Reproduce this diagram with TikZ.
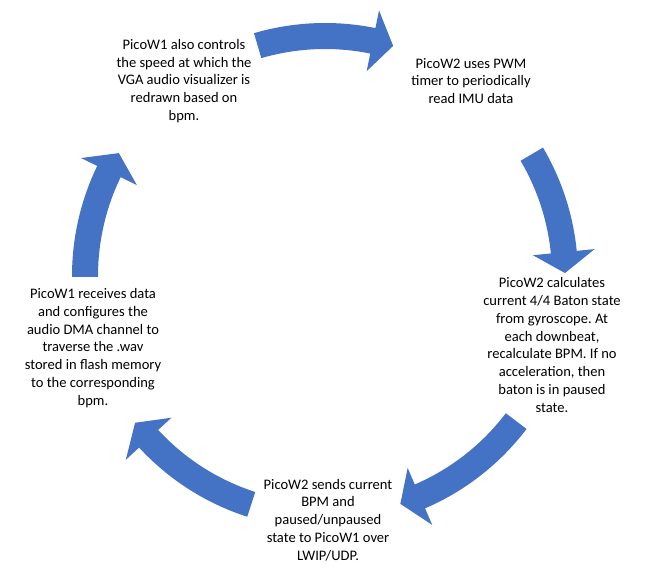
\documentclass[tikz,border=0pt]{standalone}
\usepackage{fontspec}
\setmainfont{Carlito}
\usepackage{tikz}
\usetikzlibrary{calc}

\definecolor{arrowblue}{HTML}{4472C4}

\tikzset{
  steptext/.style={align=center, inner sep=0pt, font=\fontsize{14.6}{17.9}\selectfont\frenchspacing},
  cyclearrow/.style={fill=arrowblue, draw=none}
}

\begin{document}
\begin{tikzpicture}[x=1bp, y=1bp]
\useasboundingbox (0,0) rectangle (648,568);
\coordinate (ctr) at (325,292);

% the five curved arrows, tail angle / tip angle
\begin{scope}[shift={(ctr)}]
\foreach \a/\b [evaluate=\b as \c using \b+5] in {106.3/73.5, 30.5/0.7, -37.2/-71.7, -107.9/-142.3, 180.2/149.2}
  \fill[cyclearrow] (\a:253) arc[start angle=\a, end angle=\c, radius=253]
    -- (\c:271) -- (\b:240) -- (\c:209) -- (\c:227)
    arc[start angle=\c, end angle=\a, radius=227] -- cycle;
\end{scope}

\node[steptext] (redraw) at (184,487) {PicoW1 also controls\\the speed at which the\\VGA audio visualizer is\\redrawn based on\\bpm.};
\node[steptext] (readimu) at (471,487) {PicoW2 uses PWM\\timer to periodically\\read IMU data};
\node[steptext] (calcbpm) at (552,223) {PicoW2 calculates\\current 4/4 Baton state\\from gyroscope. At\\each downbeat,\\recalculate BPM. If no\\acceleration, then\\baton is in paused\\state.};
\node[steptext] (sendbpm) at (328,48) {PicoW2 sends current\\BPM and\\paused/unpaused\\state to PicoW1 over\\LWIP/UDP.};
\node[steptext] (playwav) at (93,220) {PicoW1 receives data\\and configures the\\audio DMA channel to\\traverse the .wav\\stored in flash memory\\to the corresponding\\bpm.};
\end{tikzpicture}
\end{document}
